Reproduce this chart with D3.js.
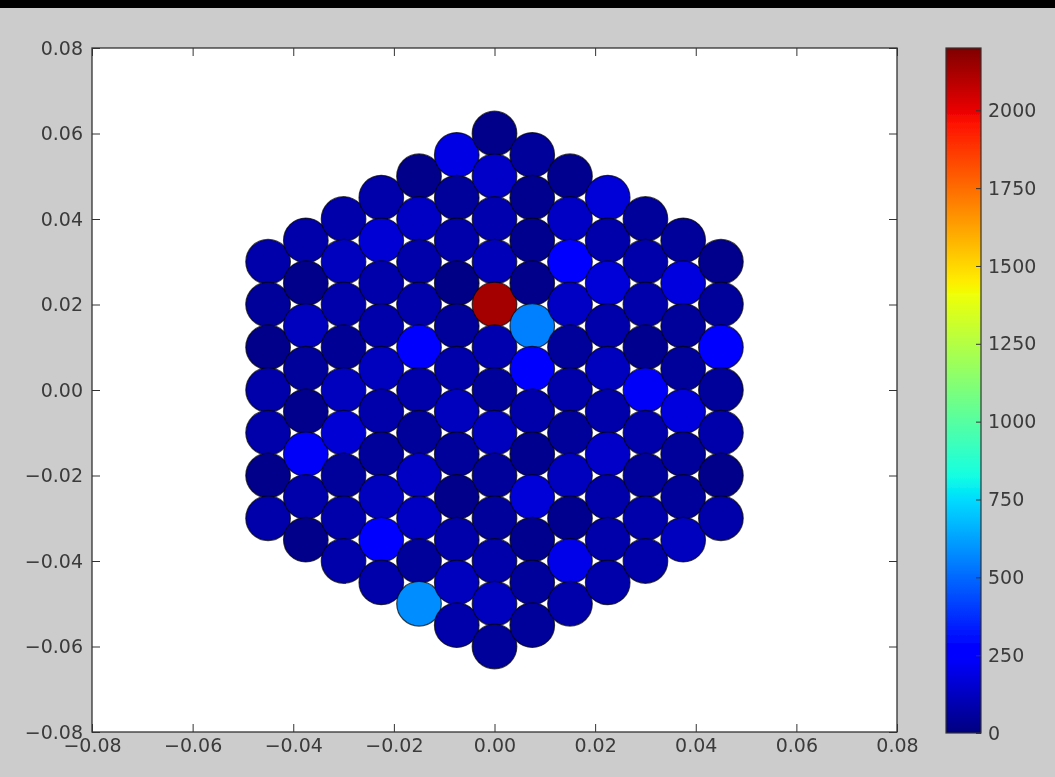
<!DOCTYPE html>
<html>
<head>
<meta charset="utf-8">
<script src="https://cdn.jsdelivr.net/npm/d3@7"></script>
<style>
  html, body { margin: 0; padding: 0; background: #cccccc; }
  svg { display: block; }
  text { font-family: "DejaVu Sans", sans-serif; }
</style>
</head>
<body>
<svg id="chart" width="1055" height="777"></svg>
<script>
// Detector layout: 13 columns of a hexagonal array, listed left to right.
const columnX = [-0.045, -0.0375, -0.03, -0.0225, -0.015, -0.0075, 0, 0.0075, 0.015, 0.0225, 0.03, 0.0375, 0.045];
const columnTopY = [0.03, 0.035, 0.04, 0.045, 0.05, 0.055, 0.06, 0.055, 0.05, 0.045, 0.04, 0.035, 0.03];
const rowPitch = 0.01;

// Counts per cell, each column read from top to bottom.
const col0  = [80, 50, 20, 80, 80, 20, 80];
const col1  = [80, 20, 120, 50, 25, 230, 80, 20];
const col2  = [80, 120, 80, 40, 120, 160, 50, 80, 80];
const col3  = [80, 160, 80, 80, 120, 80, 50, 120, 250, 80];
const col4  = [20, 130, 80, 80, 270, 80, 50, 130, 130, 50, 580];
const col5  = [190, 50, 80, 15, 50, 80, 120, 50, 20, 80, 120, 80];
const col6  = [20, 140, 90, 110, 2130, 90, 50, 120, 50, 50, 80, 120, 50];
const col7  = [50, 30, 30, 20, 550, 240, 80, 30, 170, 30, 50, 50];
const col8  = [30, 130, 270, 130, 50, 80, 50, 120, 30, 200, 80];
const col9  = [170, 80, 170, 80, 120, 80, 140, 80, 80, 80];
const col10 = [50, 80, 80, 30, 230, 80, 50, 80, 80];
const col11 = [50, 180, 50, 50, 180, 50, 50, 120];
const col12 = [25, 50, 240, 50, 80, 20, 80];
const columnValues = [col0, col1, col2, col3, col4, col5, col6, col7, col8, col9, col10, col11, col12];

const axisTicks = [-0.08, -0.06, -0.04, -0.02, 0, 0.02, 0.04, 0.06, 0.08];
const colorTicks = [0, 250, 500, 750, 1000, 1250, 1500, 1750, 2000];
const colorMax = 2200;

// Build the point table from the column arrays.
const cells = [];
columnValues.forEach((vals, c) => {
  vals.forEach((v, j) => {
    cells.push({ x: columnX[c], y: columnTopY[c] - j * rowPitch, v: v });
  });
});

// Jet colormap, piecewise linear per channel.
const jr = d3.scaleLinear().domain([0, 0.35, 0.66, 0.89, 1]).range([0, 0, 1, 1, 0.5]).clamp(true);
const jg = d3.scaleLinear().domain([0, 0.125, 0.375, 0.64, 0.91, 1]).range([0, 0, 1, 1, 0, 0]).clamp(true);
const jb = d3.scaleLinear().domain([0, 0.11, 0.34, 0.65, 1]).range([0.5, 1, 1, 0, 0]).clamp(true);
function jet(t) {
  return d3.rgb(jr(t) * 255, jg(t) * 255, jb(t) * 255).formatHex();
}
const norm = d3.scaleLinear().domain([0, colorMax]).range([0, 1]).clamp(true);

const svg = d3.select("#chart");
const W = 1055, H = 777;

const defs = svg.append("defs");
// Slight softening of the rendered figure
defs.append("filter").attr("id", "soft")
  .attr("x", 0).attr("y", 0).attr("width", 1).attr("height", 1)
  .append("feGaussianBlur").attr("stdDeviation", 0.6);

// Figure background and top strip
svg.append("rect").attr("width", W).attr("height", H).attr("fill", "#cccccc");
svg.append("rect").attr("width", W).attr("height", 8).attr("fill", "#000");

const fig = svg.append("g").attr("filter", "url(#soft)");

const plot = { left: 92, right: 897, top: 48, bottom: 732 };
const x = d3.scaleLinear().domain([-0.08, 0.08]).range([plot.left, plot.right]);
const y = d3.scaleLinear().domain([-0.08, 0.08]).range([plot.bottom, plot.top]);

fig.append("rect")
  .attr("x", plot.left).attr("y", plot.top)
  .attr("width", plot.right - plot.left).attr("height", plot.bottom - plot.top)
  .attr("fill", "#fff");

// Scatter cells
defs.append("clipPath").attr("id", "plotclip").append("rect")
  .attr("x", plot.left).attr("y", plot.top)
  .attr("width", plot.right - plot.left).attr("height", plot.bottom - plot.top);

fig.append("g").attr("clip-path", "url(#plotclip)")
  .selectAll("circle").data(cells).join("circle")
  .attr("cx", d => x(d.x))
  .attr("cy", d => y(d.y))
  .attr("r", 22.3)
  .attr("fill", d => jet(norm(d.v)))
  .attr("stroke", "#000")
  .attr("stroke-opacity", 0.7)
  .attr("stroke-width", 1.2);

// Axes with inward ticks on all four sides
const fmt = d => (d < 0 ? "\u2212" : "") + d3.format(".2f")(Math.abs(d));
const tickLen = 8;
const axisColor = "#333";

const gb = fig.append("g").attr("transform", `translate(0,${plot.bottom})`)
  .call(d3.axisBottom(x).tickValues(axisTicks).tickFormat(fmt).tickSizeInner(-tickLen).tickSizeOuter(0).tickPadding(7));
const gt = fig.append("g").attr("transform", `translate(0,${plot.top})`)
  .call(d3.axisTop(x).tickValues(axisTicks).tickFormat("").tickSizeInner(-tickLen).tickSizeOuter(0));
const gl = fig.append("g").attr("transform", `translate(${plot.left},0)`)
  .call(d3.axisLeft(y).tickValues(axisTicks).tickFormat(fmt).tickSizeInner(-tickLen).tickSizeOuter(0).tickPadding(9));
const gr = fig.append("g").attr("transform", `translate(${plot.right},0)`)
  .call(d3.axisRight(y).tickValues(axisTicks).tickFormat("").tickSizeInner(-tickLen).tickSizeOuter(0));

[gb, gt, gl, gr].forEach(g => {
  g.select(".domain").remove();
  g.selectAll("line").attr("stroke", axisColor).attr("stroke-width", 1);
  g.selectAll("text").attr("font-size", 19).attr("fill", "#3a3a3a").attr("font-family", "DejaVu Sans, sans-serif");
});

fig.append("rect")
  .attr("x", plot.left).attr("y", plot.top)
  .attr("width", plot.right - plot.left).attr("height", plot.bottom - plot.top)
  .attr("fill", "none").attr("stroke", axisColor).attr("stroke-width", 1.3);

// Colorbar
const cb = { left: 946, width: 35, top: 48, bottom: 733 };
const cy = d3.scaleLinear().domain([0, colorMax]).range([cb.bottom, cb.top]);
const grad = defs.append("linearGradient")
  .attr("id", "jetgrad").attr("x1", 0).attr("y1", 1).attr("x2", 0).attr("y2", 0);
grad.selectAll("stop").data(d3.range(0, 1.0001, 0.01)).join("stop")
  .attr("offset", d => d)
  .attr("stop-color", d => jet(d));

fig.append("rect")
  .attr("x", cb.left).attr("y", cb.top)
  .attr("width", cb.width).attr("height", cb.bottom - cb.top)
  .attr("fill", "url(#jetgrad)");

const gc = fig.append("g").attr("transform", `translate(${cb.left + cb.width},0)`)
  .call(d3.axisRight(cy).tickValues(colorTicks).tickFormat(d3.format("d")).tickSizeInner(-5).tickSizeOuter(0).tickPadding(7));
gc.select(".domain").remove();
gc.selectAll("line").attr("stroke", axisColor);
gc.selectAll("text").attr("font-size", 19).attr("fill", "#3a3a3a").attr("font-family", "DejaVu Sans, sans-serif");

fig.append("rect")
  .attr("x", cb.left).attr("y", cb.top)
  .attr("width", cb.width).attr("height", cb.bottom - cb.top)
  .attr("fill", "none").attr("stroke", axisColor).attr("stroke-width", 1.2);
</script>
</body>
</html>
